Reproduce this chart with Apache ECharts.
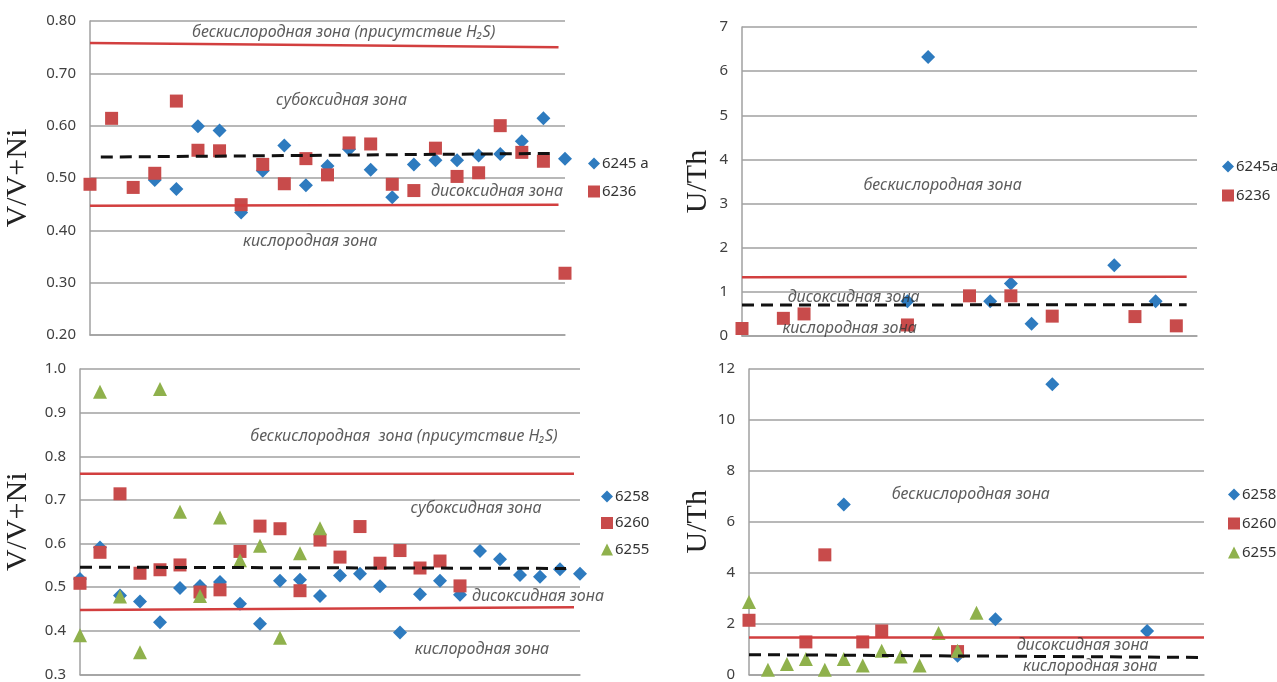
<!DOCTYPE html>
<html><head><meta charset="utf-8">
<script src="https://cdn.jsdelivr.net/npm/echarts@6/dist/echarts.min.js"></script>
<style>html,body{margin:0;padding:0;background:#fff}#c{width:1277px;height:682px}</style>
</head><body><div id="c"></div><script>
// ---------- data (sample index = position in array) ----------
// Panel 1: V/V+Ni, wells 6245 a and 6236
const p1_6245a = [null,null,null,0.496,0.479,0.599,0.591,0.434,0.514,0.562,0.486,0.523,0.555,0.516,0.463,0.526,0.534,0.534,0.543,0.546,0.570,0.614,0.537];
const p1_6236  = [0.488,0.614,0.482,0.509,0.647,0.553,0.552,0.449,0.526,0.489,0.537,0.506,0.567,0.565,0.488,0.476,0.557,0.503,0.510,0.600,0.549,0.532,0.318];
// Panel 2: U/Th, wells 6245a and 6236
const p2_6245a = [null,null,null,null,null,null,null,null,0.79,6.32,null,null,0.79,1.19,0.28,null,null,null,1.60,null,0.79,null];
const p2_6236  = [0.17,null,0.40,0.50,null,null,null,null,0.25,null,null,0.91,null,0.91,null,0.45,null,null,null,0.44,null,0.23];
// Panel 3: V/V+Ni, wells 6258, 6260, 6255
const p3_6258 = [0.519,0.591,0.481,0.467,0.420,0.498,0.503,0.512,0.462,0.416,0.515,0.517,0.480,0.527,0.531,0.502,0.396,0.484,0.515,0.483,0.583,0.564,0.528,0.524,0.541,0.531];
const p3_6260 = [0.509,0.580,0.714,0.532,0.540,0.551,0.489,0.494,0.582,0.640,0.634,0.492,0.608,0.569,0.639,0.555,0.584,0.544,0.560,0.503];
const p3_6255 = [0.390,0.948,0.479,0.351,0.954,0.673,0.480,0.660,0.562,0.595,0.384,0.578,0.635];
// Panel 4: U/Th, wells 6258, 6260, 6255
const p4_6258 = [null,null,null,null,null,6.68,null,null,null,null,null,0.74,null,2.17,null,null,11.40,null,null,null,null,1.71];
const p4_6260 = [2.13,null,null,1.28,4.70,null,1.28,1.71,null,null,null,0.90];
const p4_6255 = [2.85,0.19,0.41,0.61,0.19,0.61,0.35,0.93,0.71,0.35,1.63,0.93,2.43];

// Zone boundaries (sample index, value) - red solid and black dashed lines
const p1_upper = [[0,0.758],[21.7,0.750]];
const p1_lower = [[0,0.447],[21.7,0.449]];
const p1_mean  = [[0.5,0.540],[21.6,0.547]];
const p2_upper = [[0,1.33],[21.5,1.34]];
const p2_mean  = [[0,0.70],[21.5,0.71]];
const p3_upper = [[0,0.760],[24.7,0.760]];
const p3_lower = [[0,0.448],[24.7,0.454]];
const p3_mean  = [[0,0.546],[24.3,0.543]];
const p4_upper = [[0,1.45],[24,1.45]];
const p4_mean  = [[0,0.78],[24,0.67]];

// Zone labels [index, value, text]
const p1_labels = [[11.75,0.779,'бескислородная зона (присутствие H₂S)'],[11.65,0.649,'субоксидная зона'],[18.85,0.475,'дисоксидная зона'],[10.2,0.379,'кислородная зона']];
const p2_labels = [[9.7,3.40,'бескислородная зона'],[5.4,0.88,'дисоксидная зона'],[5.2,0.16,'кислородная зона']];
const p3_labels = [[16.2,0.845,'бескислородная  зона (присутствие H₂S)'],[19.8,0.680,'субоксидная зона'],[22.9,0.480,'дисоксидная зона'],[20.1,0.357,'кислородная зона']];
const p4_labels = [[11.7,7.09,'бескислородная зона'],[17.6,1.13,'дисоксидная зона'],[18.0,0.31,'кислородная зона']];

// Axis settings
const yTicks = [
  {min:0.2,max:0.8,interval:0.1,dec:2,name:'V/V+Ni'},
  {min:0,max:7,interval:1,dec:0,name:'U/Th'},
  {min:0.3,max:1.0,interval:0.1,dec:1,name:'V/V+Ni'},
  {min:0,max:12,interval:2,dec:0,name:'U/Th'}
];
const xMax = [22,22,25,24];

// ---------- styles ----------
const BLUE='#2e7bbf', RED='#c84b4b', GREEN='#8fb14c', GRID='#a0a0a0';
const FONT='Noto Sans';
const grids = [
  {left:90, right:712, top:21, bottom:347},
  {left:742, right:80, top:27, bottom:346},
  {left:80, right:697, top:369, bottom:5},
  {left:749, right:73, top:369, bottom:5}
];
const nameGaps=[57,29,47,36];
const pts = arr => arr.map((v,i)=> v==null?null:[i,v]).filter(Boolean);
const symSize = {diamond:14, rect:13, triangle:14};

const xAxes = grids.map((g,i)=>({type:'value',gridIndex:i,min:0,max:xMax[i],
  axisLine:{show:true,lineStyle:{color:GRID,width:1.5}},axisTick:{show:false},axisLabel:{show:false},splitLine:{show:false}}));
const yAxes = yTicks.map((t,i)=>({type:'value',gridIndex:i,min:t.min,max:t.max,interval:t.interval,
  name:t.name,nameLocation:'middle',nameGap:nameGaps[i],nameRotate:90,
  nameTextStyle:{fontFamily:'Liberation Serif',fontSize:30,color:'#222'},
  axisLine:{show:true,lineStyle:{color:GRID,width:1.5}},axisTick:{show:false},
  axisLabel:{margin:14,fontFamily:FONT,fontSize:15,color:'#404040',formatter:v=>Number(v).toFixed(t.dec)},
  splitLine:{show:true,lineStyle:{color:GRID,width:1.5}}}));

const series=[];
function scat(name,data,gi,sym,color){
  series.push({type:'scatter',name,xAxisIndex:gi,yAxisIndex:gi,data:pts(data),symbol:sym,symbolSize:symSize[sym],
    itemStyle:{color,opacity:1},clip:false,z:3});
}
function line(data,gi,dashed){
  series.push({type:'line',xAxisIndex:gi,yAxisIndex:gi,data,symbol:'none',silent:true,z:4,
    lineStyle:dashed?{color:'#111',width:3,type:[12,7]}:{color:'#d23f3f',width:2.5}});
}
function labels(arr,gi){
  series.push({type:'scatter',xAxisIndex:gi,yAxisIndex:gi,silent:true,symbolSize:0,z:6,
    data:arr.map(a=>({value:[a[0],a[1]],label:{formatter:a[2]}})),
    label:{show:true,position:'inside',fontFamily:FONT,fontStyle:'italic',fontSize:16,color:'#333'}});
}
scat('6245 a',p1_6245a,0,'diamond',BLUE); scat('6236',p1_6236,0,'rect',RED);
line(p1_upper,0); line(p1_lower,0); line(p1_mean,0,true); labels(p1_labels,0);
scat('6245a',p2_6245a,1,'diamond',BLUE); scat('6236',p2_6236,1,'rect',RED);
line(p2_upper,1); line(p2_mean,1,true); labels(p2_labels,1);
scat('6258',p3_6258,2,'diamond',BLUE); scat('6260',p3_6260,2,'rect',RED); scat('6255',p3_6255,2,'triangle',GREEN);
line(p3_upper,2); line(p3_lower,2); line(p3_mean,2,true); labels(p3_labels,2);
scat('6258',p4_6258,3,'diamond',BLUE); scat('6260',p4_6260,3,'rect',RED); scat('6255',p4_6255,3,'triangle',GREEN);
line(p4_upper,3); line(p4_mean,3,true); labels(p4_labels,3);

function legend(items,left,top,gap){
  return {orient:'vertical',left,top,padding:0,itemWidth:12,itemHeight:12,itemGap:gap,selectedMode:false,
    textStyle:{fontFamily:FONT,fontSize:15,color:'#333',padding:[0,0,0,-3]},
    data:items.map(([n,ic])=>({name:n,icon:ic}))};
}
const option={animation:false,grid:grids,xAxis:xAxes,yAxis:yAxes,series,
  legend:[
    legend([['6245 a','diamond'],['6236','rect']],588,156,13),
    legend([['6245a','diamond'],['6236','rect']],1222,159,14),
    legend([['6258','diamond'],['6260','rect'],['6255','triangle']],601,489,11.5),
    legend([['6258','diamond'],['6260','rect'],['6255','triangle']],1228,487,14)
  ]};
echarts.init(document.getElementById('c')).setOption(option);
</script></body></html>
